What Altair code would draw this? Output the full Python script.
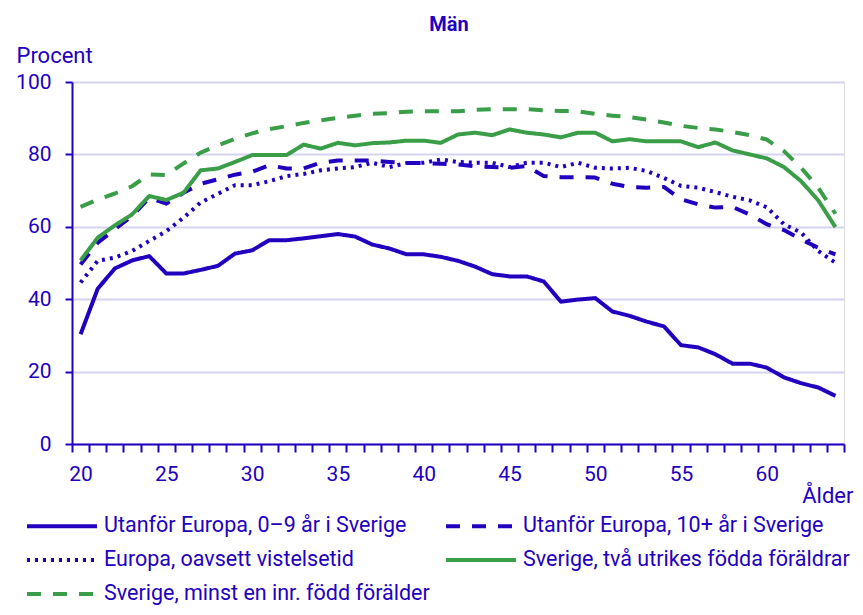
import altair as alt
import pandas as pd

ages = list(range(20, 65))

series_names = [
    "Utanför Europa, 0–9 år i Sverige",
    "Utanför Europa, 10+ år i Sverige",
    "Europa, oavsett vistelsetid",
    "Sverige, två utrikes födda föräldrar",
    "Sverige, minst en inr. född förälder",
]

utanfor_0_9 = [30.3, 42.9, 48.5, 50.7, 51.9, 47.1, 47.1, 48.1, 49.2, 52.6,
               53.5, 56.3, 56.3, 56.8, 57.4, 58.0, 57.3, 55.1, 54.0, 52.4,
               52.4, 51.7, 50.6, 49.0, 46.9, 46.3, 46.3, 44.9, 39.3, 39.9,
               40.3, 36.6, 35.4, 33.8, 32.5, 27.3, 26.7, 24.8, 22.2, 22.2,
               21.1, 18.4, 16.8, 15.6, 13.3]
utanfor_10 = [49.6, 55.6, 59.3, 63.0, 68.0, 66.4, 69.4, 71.9, 73.1, 74.4,
              75.2, 77.0, 76.1, 76.1, 77.7, 78.3, 78.3, 78.3, 77.9, 77.6,
              77.6, 77.4, 77.2, 76.7, 76.5, 76.3, 76.8, 74.0, 73.7, 73.7,
              73.6, 71.9, 71.0, 70.8, 71.0, 67.6, 66.2, 65.3, 65.5, 63.4,
              60.7, 59.1, 56.5, 54.2, 52.4]
europa = [44.6, 50.6, 51.5, 53.3, 56.1, 58.8, 62.5, 66.7, 69.1, 71.5,
          71.5, 72.6, 74.0, 74.6, 75.6, 76.1, 76.5, 77.7, 76.5, 77.6,
          77.7, 78.6, 77.9, 77.7, 77.7, 76.5, 77.7, 77.7, 76.5, 77.7,
          76.3, 76.1, 76.3, 75.4, 73.5, 71.3, 70.8, 69.6, 68.3, 67.3,
          65.4, 60.7, 58.4, 53.3, 50.1]
sverige_tva_utr = [50.7, 57.0, 60.4, 63.4, 68.5, 67.4, 69.4, 75.6, 76.1, 77.9,
                   79.8, 79.8, 79.8, 82.7, 81.6, 83.2, 82.5, 83.1, 83.3, 83.8,
                   83.8, 83.2, 85.5, 86.0, 85.3, 86.9, 86.0, 85.5, 84.7, 86.0,
                   86.0, 83.6, 84.2, 83.6, 83.6, 83.6, 82.0, 83.3, 81.1, 80.0,
                   78.9, 76.5, 72.6, 67.3, 59.9]
sverige_inr = [65.5, 67.5, 69.2, 71.2, 74.5, 74.3, 77.5, 80.5, 82.5, 84.3,
               85.8, 87.0, 87.8, 88.7, 89.4, 90.1, 90.7, 91.2, 91.4, 91.8,
               91.9, 91.9, 91.9, 92.3, 92.5, 92.5, 92.5, 92.2, 92.0, 91.9,
               91.2, 90.7, 90.3, 89.6, 88.8, 87.9, 87.3, 86.9, 86.2, 85.3,
               84.1, 80.9, 76.3, 70.8, 63.6]

x_label_values = [20, 25, 30, 35, 40, 45, 50, 55, 60]
y_values = [0, 20, 40, 60, 80, 100]

BLUE = "#2200c0"
GREEN = "#3a9d48"
GRID = "#d4d4f0"
FONT = "Roboto"

all_series = [utanfor_0_9, utanfor_10, europa, sverige_tva_utr, sverige_inr]
rows = []
for name, vals in zip(series_names, all_series):
    for a, v in zip(ages, vals):
        rows.append({"age": a, "value": v, "serie": name})
df = pd.DataFrame(rows)

colors = [BLUE, BLUE, BLUE, GREEN, GREEN]
dashes = [[1, 0], [14, 12], [3, 5], [1, 0], [14, 12]]

tick_values = [a - 0.5 for a in ages] + [ages[-1] + 0.5]

xscale = alt.Scale(domain=[ages[0] - 0.5, ages[-1] + 0.5], nice=False, zero=False)
yscale = alt.Scale(domain=[0, 100], nice=False, zero=True)

# long horizontal stroke symbol: 6 units wide in symbol space
legend = alt.Legend(
    title=None, orient="none", legendX=-45, legendY=430, columns=2,
    direction="horizontal",
    symbolType="M-3,0H3", symbolSize=544, symbolStrokeWidth=4,
    symbolOffset=21, symbolFillColor="transparent",
    labelFont=FONT, labelFontSize=21.5, labelColor=BLUE, labelLimit=0,
    labelOffset=28, rowPadding=9, columnPadding=8, padding=0,
)

y_axis = alt.Axis(
    values=y_values, tickSize=7, tickWidth=2, tickColor=BLUE,
    domainColor=BLUE, domainWidth=2, labelPadding=14,
    labelFont=FONT, labelFontSize=21, labelColor=BLUE,
    grid=True, gridColor=GRID, gridWidth=2,
    title="Procent", titleAngle=0, titleAlign="left", titleAnchor="start",
    titleX=-56, titleY=-20, titleBaseline="alphabetic",
    titleFont=FONT, titleFontSize=22, titleFontWeight="normal", titleColor=BLUE)

lines = alt.Chart(df).mark_line(strokeWidth=4, strokeCap="butt", strokeJoin="round").encode(
    x=alt.X("age:Q", scale=xscale, axis=alt.Axis(
        orient="bottom",
        values=tick_values, labels=False, tickSize=8, tickWidth=2, tickColor=BLUE,
        domainColor=BLUE, domainWidth=2, grid=False,
        title="Ålder", titleX=781, titleY=58, titleAlign="right", titleAnchor="start",
        titleBaseline="alphabetic", titleFont=FONT, titleFontSize=22,
        titleFontWeight="normal", titleColor=BLUE)),
    y=alt.Y("value:Q", scale=yscale, axis=y_axis),
    color=alt.Color("serie:N", scale=alt.Scale(domain=series_names, range=colors), legend=legend),
    strokeDash=alt.StrokeDash("serie:N", scale=alt.Scale(domain=series_names, range=dashes), legend=legend),
)

labels_layer = alt.Chart(df).mark_point(opacity=0).encode(
    x=alt.X("age:Q", scale=xscale, axis=alt.Axis(
        orient="bottom",
        values=x_label_values, ticks=True, tickSize=8, tickOpacity=0,
        domain=False, grid=False,
        labelPadding=11, labelBaseline="top",
        labelFont=FONT, labelFontSize=21, labelColor=BLUE, title=None)),
    y=alt.Y("value:Q", scale=yscale, axis=y_axis),
)

chart = alt.layer(lines, labels_layer).resolve_axis(x="independent").properties(
    width=772, height=362,
    autosize=alt.AutoSizeParams(type="none"),
    padding={"left": 64, "top": 74, "right": 11, "bottom": 163},
    title=alt.Title("Män", font=FONT, fontSize=20, fontWeight="bold", color=BLUE,
                    anchor="middle", dx=-9, offset=9),
).configure_view(stroke=None).configure(background="white")

chart.save("out.html", embed_options={"renderer": "svg", "actions": False})
